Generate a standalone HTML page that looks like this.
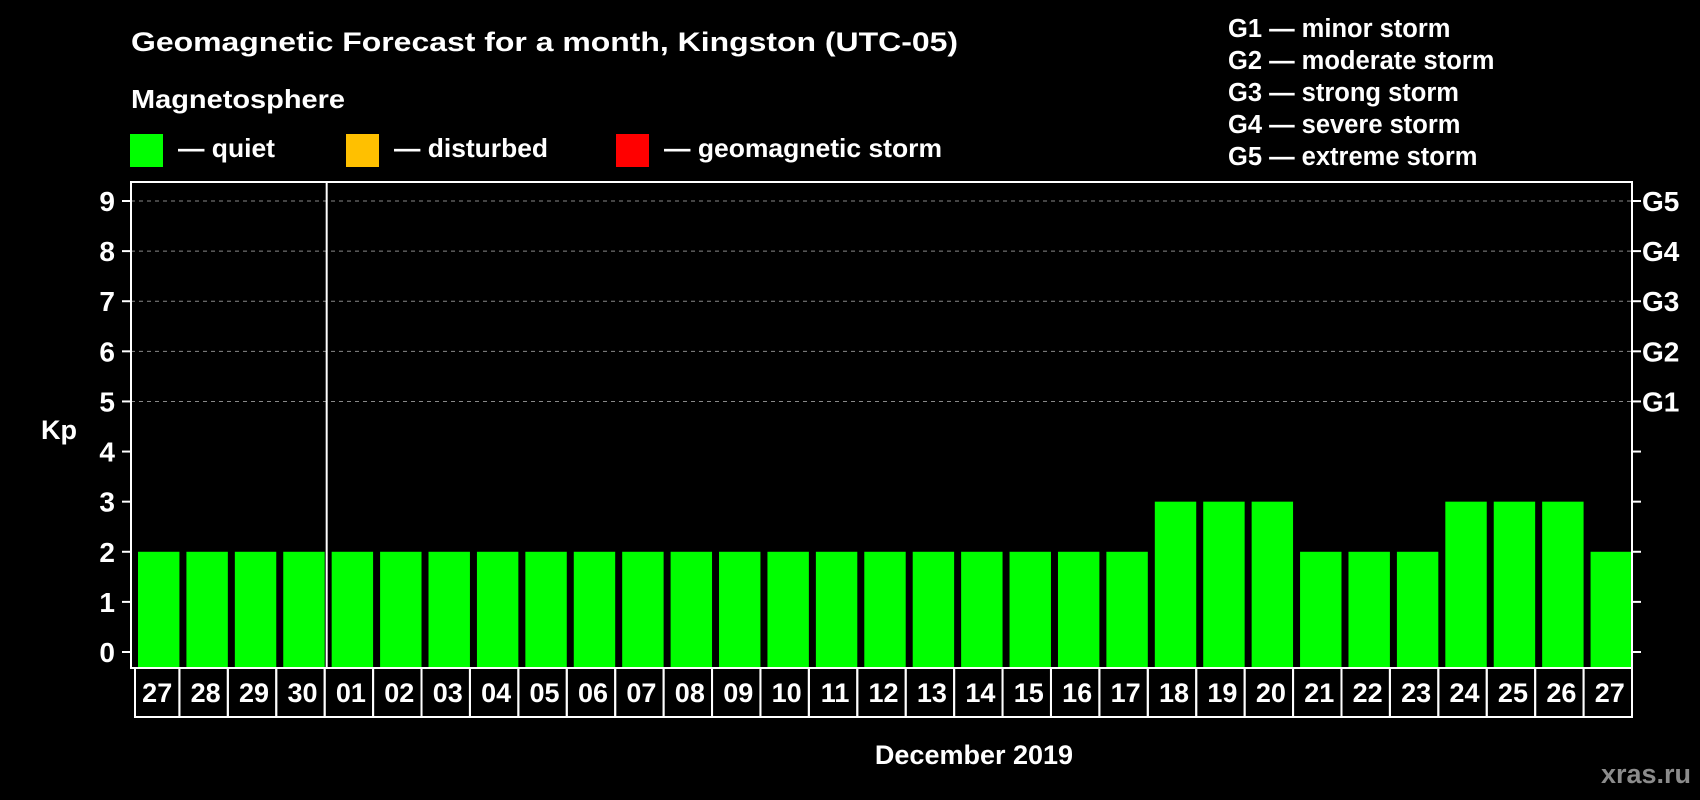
<!DOCTYPE html>
<html><head><meta charset="utf-8"><style>
html,body{margin:0;padding:0;background:#000;width:1700px;height:800px;overflow:hidden}
svg{display:block;font-family:"Liberation Sans",sans-serif;font-weight:bold}
</style></head><body>
<svg id="chart" width="1700" height="800">
<text x="131" y="51" fill="#fff" font-size="27" textLength="827" lengthAdjust="spacingAndGlyphs">Geomagnetic Forecast for a month, Kingston (UTC-05)</text>
<text x="131" y="108" fill="#fff" font-size="26" textLength="214" lengthAdjust="spacingAndGlyphs">Magnetosphere</text>
<rect x="130" y="134" width="33" height="33" fill="#00ff00"/>
<text x="178" y="157" fill="#fff" font-size="26" textLength="97" lengthAdjust="spacingAndGlyphs">— quiet</text>
<rect x="346" y="134" width="33" height="33" fill="#ffc000"/>
<text x="394" y="157" fill="#fff" font-size="26" textLength="154" lengthAdjust="spacingAndGlyphs">— disturbed</text>
<rect x="616" y="134" width="33" height="33" fill="#ff0000"/>
<text x="664" y="157" fill="#fff" font-size="26" textLength="278" lengthAdjust="spacingAndGlyphs">— geomagnetic storm</text>
<g fill="#fff" font-size="25.5">
<text x="1228" y="37">G1 — minor storm</text>
<text x="1228" y="69">G2 — moderate storm</text>
<text x="1228" y="101">G3 — strong storm</text>
<text x="1228" y="133">G4 — severe storm</text>
<text x="1228" y="165">G5 — extreme storm</text>
</g>
<text x="41" y="439" fill="#fff" font-size="27">Kp</text>
<text x="974" y="764" fill="#fff" font-size="27" text-anchor="middle">December 2019</text>
<text x="1691" y="783" fill="#8c8c8c" font-size="27" text-anchor="end">xras.ru</text>
<g id="plot"></g>
</svg>
<script>
const days = ["27","28","29","30","01","02","03","04","05","06","07","08","09","10","11","12","13","14","15","16","17","18","19","20","21","22","23","24","25","26","27"];
const kpValues = [2,2,2,2,2,2,2,2,2,2,2,2,2,2,2,2,2,2,2,2,2,3,3,3,2,2,2,3,3,3,2];
const yTicks = [0,1,2,3,4,5,6,7,8,9];
const gLabels = ["G1","G2","G3","G4","G5"];
const NS="http://www.w3.org/2000/svg";
const L=131,R=1632,T=182,B=668,Y0=652,Y9=201;
const y=v=>Y0-(Y0-Y9)*v/9;
const slot=(R-L)/days.length;
const x=i=>L+i*slot;
const g=document.getElementById('plot');
function mk(tag,a){const e=document.createElementNS(NS,tag);for(const k in a)e.setAttribute(k,a[k]);g.appendChild(e);return e;}
yTicks.forEach(t=>{
  if(t>=5){const e=mk('line',{x1:L,x2:R,y1:y(t),y2:y(t),stroke:'#888','stroke-dasharray':'4,4','stroke-width':1});
  
  }
  const a=mk('line',{x1:L-9,x2:L,y1:y(t),y2:y(t),stroke:'#fff','stroke-width':2});
  
  
  const b=mk('line',{x1:R,x2:R+9,y1:y(t),y2:y(t),stroke:'#fff','stroke-width':2});
  
  
  const tx=mk('text',{x:L-16,y:y(t)+10,fill:'#fff','font-size':28,'text-anchor':'end'});
  tx.textContent=t;
  
  
});
gLabels.forEach((s,i)=>{
  const tx=mk('text',{x:R+10,y:y(5+i)+10,fill:'#fff','font-size':28});
  tx.textContent=s;
  
  
});
kpValues.forEach((v,i)=>{
  const c=v>=5?'#ff0000':(v>=4?'#ffc000':'#00ff00');
  const r=mk('rect',{x:x(i)+7,y:y(v),width:slot-7,height:B-y(v),fill:c});
  
  
  const bx=mk('rect',{x:x(i)+(i==0?4:0),y:B,width:slot-(i==0?4:0),height:49,fill:'none',stroke:'#fff','stroke-width':2});
  
  
  const tx=mk('text',{x:x(i)+slot/2+2,y:B+34,fill:'#fff','font-size':27,'text-anchor':'middle'});
  tx.textContent=days[i];
  
  
});
const sep=mk('line',{x1:x(4)+2,x2:x(4)+2,y1:T,y2:B,stroke:'#fff','stroke-width':2});


const fr=mk('rect',{x:L,y:T,width:R-L,height:B-T,fill:'none',stroke:'#fff','stroke-width':2});


</script>
</body></html>
